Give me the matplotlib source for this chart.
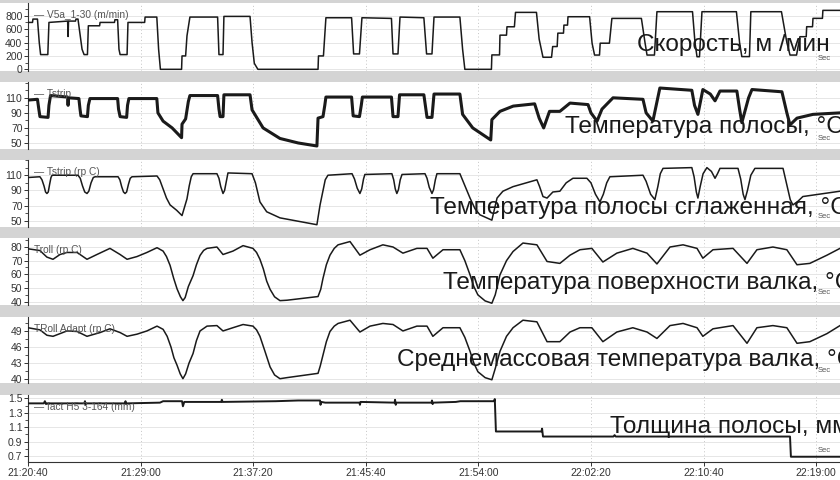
"""
Rolling-mill trend panels: speed, strip temperature, roll temperature, thickness.
"""
import numpy as np
import matplotlib
matplotlib.use("Agg")
import matplotlib.pyplot as plt
from matplotlib.patches import Rectangle
from matplotlib.ticker import MultipleLocator, AutoMinorLocator, FuncFormatter

plt.rcParams['font.family'] = ['Liberation Sans', 'DejaVu Sans']

# time axis starts at 21:20:40, values are seconds from start
T0 = 21 * 3600 + 20 * 60 + 40
T_END = 3606

# (seconds, m/min)
speed = [(0, 700), (20, 700), (22, 750), (42, 750), (50, 400), (56, 220), (88, 220), (93, 700),
         (176, 720), (178, 490), (180, 720), (211, 720), (213, 750), (222, 750), (240, 300),
         (249, 220), (264, 220), (268, 650), (318, 650), (320, 700), (384, 700), (386, 740),
         (398, 740), (404, 300), (409, 220), (440, 220), (444, 700), (518, 700), (520, 780),
         (572, 780), (580, 300), (588, 0), (682, 0), (684, 200), (700, 200), (706, 500),
         (719, 780), (842, 780), (848, 220), (866, 220), (870, 790), (986, 790), (995, 400),
         (1005, 90), (1012, 50), (1021, 0), (1288, 0), (1290, 200), (1312, 200), (1323, 770),
         (1437, 770), (1446, 230), (1472, 230), (1483, 770), (1614, 760), (1621, 230),
         (1643, 230), (1652, 780), (1758, 770), (1770, 230), (1794, 230), (1803, 780),
         (1918, 780), (1930, 300), (1940, 0), (2058, 0), (2060, 215), (2094, 215), (2096, 510),
         (2125, 510), (2127, 635), (2160, 635), (2165, 850), (2258, 850), (2270, 450),
         (2287, 180), (2325, 180), (2330, 340), (2350, 340), (2353, 540), (2378, 540),
         (2380, 660), (2396, 660), (2398, 785), (2494, 785), (2505, 390), (2516, 213),
         (2538, 213), (2541, 390), (2582, 390), (2593, 760), (2724, 760), (2740, 400),
         (2749, 213), (2782, 213), (2793, 860), (2951, 860), (2962, 400), (2971, 188),
         (2982, 188), (2993, 860), (3146, 860), (3160, 400), (3170, 190), (3204, 190),
         (3210, 860), (3346, 860), (3370, 400), (3384, 213), (3413, 213), (3428, 487),
         (3456, 487), (3458, 636), (3484, 636), (3486, 761), (3528, 761), (3530, 880),
         (3606, 880)]

# strip temperature, raw
t_strip = [(0, 107), (42, 108), (48, 95), (53, 85), (89, 84), (93, 100), (100, 113), (176, 111),
           (178, 100), (180, 110), (226, 109), (231, 95), (235, 86), (264, 85), (268, 100),
           (275, 109), (398, 109), (402, 95), (409, 85), (438, 84), (442, 100), (448, 109),
           (572, 109), (577, 90), (600, 79), (640, 70), (682, 57), (684, 75), (700, 82),
           (712, 105), (719, 113), (842, 113), (848, 95), (853, 85), (866, 85), (870, 114),
           (986, 114), (995, 94), (1044, 70), (1119, 56), (1200, 50), (1283, 46), (1288, 83),
           (1310, 85), (1318, 100), (1323, 111), (1437, 111), (1444, 86), (1472, 85),
           (1480, 100), (1485, 111), (1614, 111), (1621, 85), (1643, 85), (1650, 114),
           (1758, 114), (1772, 84), (1794, 84), (1803, 115), (1918, 115), (1930, 88),
           (1975, 70), (2055, 54), (2060, 81), (2096, 92), (2155, 99), (2250, 102), (2270, 83),
           (2290, 70), (2316, 92), (2362, 92), (2407, 103), (2487, 101), (2500, 90), (2527, 79),
           (2549, 95), (2598, 110), (2731, 108), (2745, 90), (2775, 79), (2806, 123),
           (2948, 120), (2960, 100), (2975, 88), (2997, 121), (3030, 115), (3051, 106),
           (3073, 119), (3148, 119), (3160, 95), (3170, 77), (3200, 110), (3215, 121),
           (3348, 118), (3370, 90), (3384, 74), (3415, 83), (3486, 88), (3606, 90)]

# strip temperature, smoothed
t_strip_smooth = [(0, 107), (53, 108), (62, 104), (71, 96), (78, 88), (84, 86), (90, 88),
                  (96, 98), (102, 107), (107, 110), (222, 110), (232, 106), (242, 96), (252, 88),
                  (262, 86), (270, 89), (280, 100), (290, 107), (298, 108), (400, 108),
                  (408, 104), (416, 95), (424, 88), (431, 86), (438, 88), (446, 98), (454, 106),
                  (462, 108), (573, 109), (585, 104), (600, 92), (615, 80), (631, 71), (660, 64),
                  (684, 57), (695, 68), (706, 79), (716, 96), (725, 108), (733, 112), (839, 112),
                  (848, 106), (856, 95), (866, 86), (873, 90), (880, 101), (888, 113), (995, 112),
                  (1010, 100), (1030, 75), (1060, 62), (1119, 54), (1283, 45), (1297, 71),
                  (1310, 90), (1320, 104), (1332, 110), (1439, 112), (1450, 105), (1462, 93),
                  (1474, 86), (1482, 92), (1490, 105), (1496, 111), (1616, 112), (1624, 104),
                  (1631, 92), (1638, 86), (1645, 91), (1653, 104), (1661, 111), (1763, 112),
                  (1772, 106), (1782, 94), (1794, 86), (1801, 91), (1809, 104), (1816, 112),
                  (1918, 112), (1935, 100), (1963, 80), (1985, 66), (2007, 58), (2060, 51),
                  (2083, 80), (2109, 89), (2154, 95), (2260, 104), (2272, 95), (2287, 82),
                  (2305, 80), (2331, 88), (2362, 89), (2390, 100), (2420, 106), (2482, 106),
                  (2500, 100), (2520, 85), (2540, 75), (2555, 85), (2570, 100), (2584, 108),
                  (2731, 110), (2745, 102), (2765, 85), (2784, 78), (2797, 95), (2808, 112),
                  (2820, 119), (2948, 120), (2958, 108), (2968, 88), (2975, 80), (2985, 95),
                  (2998, 112), (3015, 120), (3035, 115), (3051, 106), (3062, 112), (3073, 119),
                  (3153, 119), (3165, 105), (3176, 85), (3184, 78), (3195, 90), (3210, 110),
                  (3228, 119), (3353, 119), (3368, 100), (3385, 78), (3397, 71), (3420, 76),
                  (3441, 82), (3606, 89)]

# roll surface temperature
t_roll = [(0, 78.7), (53, 77.4), (84, 72.6), (111, 71), (142, 74.5), (173, 76), (218, 76),
          (262, 71), (306, 74.5), (364, 79), (409, 74.5), (440, 71), (484, 73), (528, 76),
          (573, 79.5), (600, 77), (615, 73), (631, 66.5), (647, 57), (662, 49.3), (677, 43.5),
          (688, 40.7), (698, 43), (712, 51), (733, 59), (748, 67), (764, 73.8), (780, 77.5),
          (795, 79), (839, 80), (866, 74.5), (910, 77), (955, 81), (999, 79), (1015, 76),
          (1030, 71), (1045, 64), (1060, 55), (1075, 49), (1095, 43.5), (1119, 40.7),
          (1150, 41), (1288, 43.7), (1300, 49), (1310, 57), (1325, 67), (1341, 74), (1360, 79),
          (1377, 81.6), (1430, 84), (1474, 74), (1519, 78), (1576, 81.6), (1621, 80),
          (1665, 75.5), (1727, 79), (1772, 79), (1798, 71.8), (1843, 78), (1918, 78),
          (1940, 70), (1963, 59.6), (1980, 51), (1998, 44.9), (2030, 40.5), (2060, 38.8),
          (2075, 45), (2096, 59.6), (2125, 70), (2154, 76.7), (2198, 82.9), (2260, 81.6),
          (2305, 69.4), (2362, 68), (2407, 74), (2451, 78), (2504, 79), (2553, 69),
          (2615, 75.5), (2686, 79), (2749, 75.5), (2793, 67.6), (2851, 80), (2909, 81.6),
          (2971, 79), (2997, 71.8), (3042, 78), (3131, 79), (3193, 68), (3237, 78), (3308, 80),
          (3370, 78), (3415, 67), (3472, 68), (3548, 74), (3606, 79)]

# roll mean (adapted) temperature
t_roll_adapt = [(0, 49.6), (53, 49.2), (84, 48.2), (111, 48), (173, 49), (218, 48.9), (262, 48),
                (320, 48.7), (364, 49.4), (409, 48.7), (440, 48), (484, 48.4), (528, 49),
                (573, 49.9), (600, 49.3), (618, 48), (635, 46), (648, 44), (662, 42.6),
                (676, 41), (688, 40.1), (700, 41), (715, 43), (733, 44.8), (748, 47.2), (764, 49),
                (795, 49.9), (839, 50), (866, 49), (910, 49.6), (955, 50.2), (999, 49.9),
                (1015, 49.2), (1030, 48), (1050, 45.5), (1075, 42.3), (1095, 40.8), (1119, 40.1),
                (1150, 40.3), (1288, 41.1), (1298, 42.5), (1310, 44.5), (1325, 47), (1341, 48.9),
                (1360, 49.9), (1377, 50.4), (1430, 51), (1474, 48.8), (1519, 49.9), (1576, 50.4),
                (1621, 50.2), (1665, 49), (1727, 49.9), (1772, 49.9), (1798, 48), (1843, 49.6),
                (1918, 49.6), (1940, 47.8), (1963, 45.2), (1980, 43), (1998, 41.4), (2030, 40.3),
                (2060, 39.9), (2075, 42), (2096, 45.2), (2125, 48), (2154, 49.6), (2198, 51),
                (2260, 50.7), (2305, 47), (2362, 47), (2407, 48.8), (2451, 49.6), (2504, 49.6),
                (2553, 47), (2615, 48.8), (2686, 49.6), (2749, 48.8), (2793, 47.6), (2851, 50),
                (2909, 50.4), (2971, 49.6), (2997, 48), (3042, 49.4), (3131, 50), (3193, 46.7),
                (3237, 49.6), (3308, 50), (3370, 49.6), (3415, 46.7), (3472, 47), (3548, 48.5),
                (3606, 50)]

# strip thickness
h_strip = [(0, 1.43), (70, 1.43), (75, 1.46), (80, 1.42), (85, 1.43), (250, 1.43), (253, 1.46),
           (256, 1.41), (260, 1.43), (430, 1.43), (433, 1.46), (436, 1.42), (440, 1.43),
           (586, 1.44), (600, 1.46), (684, 1.46), (688, 1.39), (694, 1.45), (858, 1.45),
           (861, 1.48), (864, 1.45), (1100, 1.46), (1200, 1.47), (1297, 1.47), (1299, 1.41),
           (1302, 1.45), (1320, 1.44), (1472, 1.44), (1474, 1.41), (1477, 1.45), (1628, 1.44),
           (1630, 1.48), (1633, 1.41), (1636, 1.44), (1792, 1.44), (1794, 1.47), (1797, 1.42),
           (1800, 1.44), (1900, 1.45), (1920, 1.46), (2070, 1.46), (2073, 1.49), (2078, 1.04),
           (2280, 1.04), (2283, 1.08), (2287, 0.97), (2600, 0.97), (2605, 0.99), (2610, 0.97),
           (3000, 0.97), (3384, 0.97), (3388, 0.69), (3606, 0.69)]

# panel layout in image pixels (top, bottom of white band / axes)
PANELS = [
    dict(data=speed, ylim=(-25, 990), yticks=[0, 200, 400, 600, 800], tag="\u2014 V5a_1-30 (m/min)",
         title="Скорость, м /мин", tx=637, ty=45, top=3, bot=71, lw=1.1, sec_y=58),
    dict(data=t_strip, ylim=(42, 131), yticks=[50, 70, 90, 110], tag="\u2014 Tstrip",
         title="Температура полосы, °C", tx=565, ty=127, top=82, bot=149, lw=2.2, sec_y=138),
    dict(data=t_strip_smooth, ylim=(42, 130), yticks=[50, 70, 90, 110], tag="\u2014 Tstrip (rp C)",
         title="Температура полосы сглаженная, °C", tx=430, ty=208, top=160, bot=227, lw=1.1, sec_y=216),
    dict(data=t_roll, ylim=(37.5, 86.6), yticks=[40, 50, 60, 70, 80], tag="Troll (rp C)",
         title="Температура поверхности валка, °C", tx=443, ty=283, top=238, bot=305, lw=1.1, sec_y=293),
    dict(data=t_roll_adapt, ylim=(39.3, 51.6), yticks=[40, 43, 46, 49], tag="TRoll Adapt (rp C)",
         title="Среднемассовая температура валка, °C", tx=397, ty=360, top=317, bot=383, lw=1.1, sec_y=371),
    dict(data=h_strip, ylim=(0.617, 1.546), yticks=[0.7, 0.9, 1.1, 1.3, 1.5], tag="\u2014 fact H5 3-164 (mm)",
         title="Толщина полосы, мм", tx=610, ty=427, top=395, bot=462, lw=1.4, sec_y=450),
]

W, H = 840, 480
LEFT = 28


def fmt_time(x, pos):
    s = int(round(T0 + x)) % 86400
    return f"{s // 3600}:{(s % 3600) // 60:02d}:{s % 60:02d}"


fig = plt.figure(figsize=(W / 100, H / 100), dpi=100)
fig.patch.set_facecolor('#d4d4d4')

for i, p in enumerate(PANELS):
    last = i == len(PANELS) - 1
    band_bot = H if last else p['bot']
    fig.add_artist(Rectangle((0, 1 - band_bot / H), 1, (band_bot - p['top']) / H,
                             transform=fig.transFigure, facecolor='white', edgecolor='none', zorder=-5))

    ax = fig.add_axes([LEFT / W, 1 - p['bot'] / H, 1 - LEFT / W, (p['bot'] - p['top']) / H])
    ax.set_facecolor('white')
    t, v = np.array(p['data'], dtype=float).T
    ax.plot(t, v, color='#1a1a1a', lw=p['lw'], solid_joinstyle='round', zorder=3)

    ax.set_xlim(0, T_END)
    ax.set_ylim(*p['ylim'])
    ax.set_yticks(p['yticks'])
    ax.yaxis.set_minor_locator(AutoMinorLocator(2))
    ax.xaxis.set_major_locator(MultipleLocator(500))
    ax.xaxis.set_major_formatter(FuncFormatter(fmt_time))

    for side in ('top', 'right'):
        ax.spines[side].set_visible(False)
    ax.spines['left'].set_color('#333333')
    ax.spines['left'].set_linewidth(0.8)
    ax.spines['bottom'].set_visible(last)
    ax.spines['bottom'].set_color('#333333')

    ax.grid(axis='y', color='#e6e6e6', lw=0.7, zorder=0)
    ax.grid(axis='x', color='#c4c4c4', lw=0.7, ls=(0, (1, 2.5)), zorder=0)
    ax.tick_params(axis='y', labelsize=7.5, labelcolor='#333333', color='#333333',
                   length=3, width=0.7, pad=1)
    ax.tick_params(axis='y', which='minor', length=2, width=0.6, color='#333333')
    ax.tick_params(axis='x', labelsize=7.5, labelcolor='#333333', color='#333333',
                   length=3 if last else 0, width=0.7, pad=1, labelbottom=last)

    ax.text(0.007, 0.82, p['tag'], transform=ax.transAxes, fontsize=7.3, color='#555555',
            va='center', ha='left', zorder=4)
    fig.text(p['tx'] / W, 1 - p['ty'] / H, p['title'], fontsize=17.6, color='#1a1a1a',
             va='center', ha='left', zorder=6)
    fig.text(818 / W, 1 - p['sec_y'] / H, "Sec", fontsize=5.5, color='#555555',
             va='center', ha='left', zorder=6)

fig.savefig("out.png", dpi=100, facecolor=fig.get_facecolor())
